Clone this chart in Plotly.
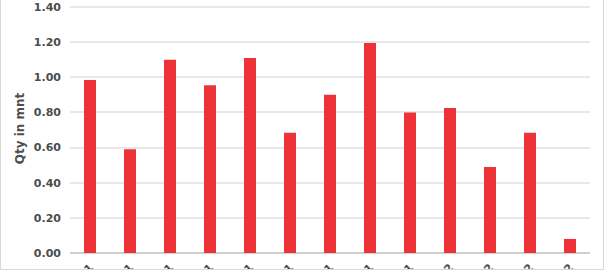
import plotly.graph_objects as go

months = ["Apr-21", "May-21", "Jun-21", "Jul-21", "Aug-21", "Sep-21", "Oct-21",
          "Nov-21", "Dec-21", "Jan-22", "Feb-22", "Mar-22", "Apr-22"]
qty = [0.985, 0.59, 1.10, 0.955, 1.11, 0.685, 0.90, 1.195, 0.80, 0.825, 0.49, 0.685, 0.08]
y_ticks = [0.0, 0.2, 0.4, 0.6, 0.8, 1.0, 1.2, 1.4]

W, H = 604, 270
L, R, T, B = 70, 14, 4, 17
FONT = "DejaVu Sans"

fig = go.Figure(go.Bar(x=months, y=qty, marker=dict(color="#EE3338", line=dict(width=0))))

fig.update_layout(
    width=W, height=H,
    margin=dict(l=L, r=R, t=T, b=B, autoexpand=False),
    paper_bgcolor="white", plot_bgcolor="white",
    bargap=0.7,
    showlegend=False,
    font=dict(family=FONT, color="#4d4d4d"),
)
fig.update_yaxes(
    range=[0, 1.417], tickvals=y_ticks, ticktext=[f"{v:.2f}" for v in y_ticks],
    showgrid=True, gridcolor="#e8e8e8", gridwidth=1.5,
    zeroline=True, zerolinecolor="#d0d0d0", zerolinewidth=1.5,
    tickfont=dict(size=11, family=FONT, color="#4d4d4d", weight="bold"),
    title=dict(text="Qty in mnt", font=dict(size=12, family=FONT, color="#4d4d4d", weight="bold"), standoff=6),
    automargin=False, ticks="", ticklabelstandoff=8, ticklabeloverflow="allow",
)
fig.update_xaxes(
    tickangle=-45, automargin=False, showline=False, ticks="",
    tickfont=dict(size=11, family=FONT, color="#4d4d4d", weight="bold"),
    ticklabelstandoff=5, ticklabeloverflow="allow",
)
pw = W - L - R
ph = H - T - B
fig.add_shape(type="rect", xref="paper", yref="paper",
              x0=(0.5 - L) / pw, x1=(W - 0.5 - L) / pw,
              y0=(-B + 0.5) / ph, y1=(H + B) / ph,
              line=dict(color="#d8d8d8", width=1), fillcolor="rgba(0,0,0,0)", layer="above")

fig.write_html("out.html")
